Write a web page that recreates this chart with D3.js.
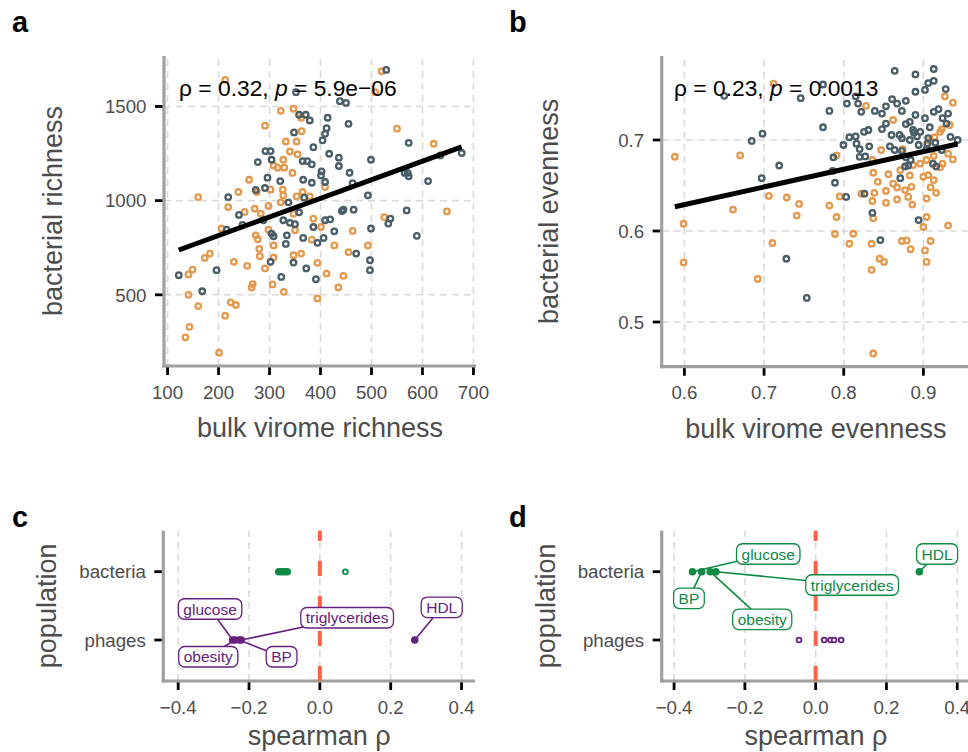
<!DOCTYPE html>
<html>
<head>
<meta charset="utf-8">
<script src="https://cdn.jsdelivr.net/npm/d3@7"></script>
<style>
    body { margin: 0; background: #fff; }
    svg { display: block; font-family: "Liberation Sans", Arial, Helvetica, sans-serif; }
</style>
</head>
<body>
<div id="chart"></div>
<script>
// ---- data ----

// panel a: bulk virome richness vs bacterial richness
const aOrange = [[520,1687],[213,1641],[507,1576],[322,1477],[347,1488],[362,1440],[291,1398],[550,1382],[363,1369],[332,1314],[353,1314],[622,1302],[340,1261],[355,1246],[308,1187],[327,1217],[316,1175],[329,1175],[345,1147],[260,1111],[302,1058],[326,1058],[275,1046],[239,1046],[327,1028],[365,1046],[409,1072],[160,1019],[379,1023],[322,991],[353,1023],[219,966],[271,958],[298,972],[283,931],[251,940],[347,931],[648,943],[386,905],[525,913],[206,852],[298,846],[350,843],[401,860],[463,839],[273,816],[277,795],[383,793],[280,744],[308,762],[427,762],[493,762],[455,726],[347,710],[362,719],[183,719],[173,696],[281,705],[308,698],[230,675],[256,654],[394,670],[291,640],[149,634],[141,608],[412,613],[445,601],[267,557],[265,539],[306,555],[328,516],[435,539],[141,500],[394,481],[224,460],[234,446],[160,440],[213,389],[143,330],[135,274],[201,193]];
const aSlate = [[529,1694],[352,1576],[438,1528],[450,1519],[358,1456],[371,1456],[379,1426],[414,1440],[455,1408],[412,1385],[348,1362],[409,1355],[404,1320],[573,1307],[386,1284],[292,1263],[302,1263],[417,1249],[436,1228],[635,1240],[677,1253],[277,1205],[304,1217],[365,1210],[374,1210],[383,1193],[499,1217],[436,1184],[457,1148],[402,1155],[401,1134],[565,1147],[573,1129],[571,1147],[296,1122],[321,1104],[366,1111],[383,1095],[409,1099],[611,1104],[463,1093],[273,1057],[291,1067],[493,1028],[219,1019],[368,1016],[337,991],[240,924],[358,938],[445,952],[465,952],[442,945],[569,948],[409,896],[419,901],[537,905],[533,878],[327,896],[340,882],[350,875],[247,871],[288,896],[216,846],[304,825],[308,811],[386,860],[427,837],[499,852],[589,813],[334,816],[366,802],[394,776],[406,802],[332,770],[470,719],[302,675],[347,671],[372,640],[497,684],[497,631],[196,631],[122,604],[323,595],[391,583],[168,519]];
const aFit = { intercept: 617.6, slope: 0.9859 };
const aXTicks = [100, 200, 300, 400, 500, 600, 700];
const aYTicks = [500, 1000, 1500];

// panel b: bulk virome evenness vs bacterial evenness
const bOrange = [[0.712,0.762],[0.588,0.6816],[0.599,0.608],[0.599,0.5655],[0.670,0.683],[0.661,0.6235],[0.692,0.5474],[0.706,0.6386],[0.7105,0.5868],[0.7285,0.6368],[0.741,0.617],[0.744,0.6298],[0.782,0.628],[0.791,0.6154],[0.789,0.5967],[0.795,0.638],[0.791,0.683],[0.807,0.586],[0.812,0.597],[0.822,0.641],[0.828,0.7375],[0.835,0.586],[0.835,0.5574],[0.837,0.4654],[0.837,0.614],[0.836,0.633],[0.8385,0.642],[0.8427,0.654],[0.837,0.664],[0.836,0.678],[0.845,0.5695],[0.8506,0.566],[0.847,0.689],[0.853,0.631],[0.853,0.644],[0.856,0.6625],[0.862,0.652],[0.862,0.722],[0.867,0.6346],[0.867,0.6478],[0.873,0.589],[0.879,0.5897],[0.884,0.580],[0.874,0.690],[0.871,0.667],[0.883,0.661],[0.877,0.645],[0.881,0.6375],[0.885,0.6485],[0.886,0.629],[0.900,0.6044],[0.902,0.5787],[0.904,0.566],[0.909,0.589],[0.904,0.6154],[0.904,0.6357],[0.900,0.6596],[0.906,0.6614],[0.909,0.648],[0.913,0.656],[0.916,0.642],[0.896,0.674],[0.904,0.678],[0.913,0.6824],[0.921,0.670],[0.924,0.674],[0.931,0.606],[0.937,0.6787],[0.931,0.685],[0.933,0.7165],[0.9075,0.699],[0.921,0.709],[0.887,0.6724],[0.914,0.703],[0.923,0.712],[0.927,0.748],[0.937,0.741]];
const bSlate = [[0.650,0.7485],[0.774,0.761],[0.746,0.746],[0.864,0.776],[0.890,0.772],[0.913,0.778],[0.913,0.765],[0.906,0.7625],[0.890,0.753],[0.902,0.755],[0.928,0.756],[0.804,0.740],[0.815,0.748],[0.818,0.740],[0.822,0.731],[0.8607,0.745],[0.867,0.740],[0.878,0.743],[0.873,0.732],[0.853,0.737],[0.839,0.732],[0.848,0.729],[0.782,0.732],[0.774,0.714],[0.853,0.718],[0.848,0.712],[0.831,0.711],[0.8255,0.709],[0.815,0.704],[0.807,0.703],[0.7996,0.6945],[0.816,0.696],[0.820,0.690],[0.827,0.682],[0.820,0.6815],[0.832,0.693],[0.860,0.7055],[0.870,0.7055],[0.878,0.7175],[0.883,0.720],[0.890,0.7275],[0.902,0.724],[0.908,0.714],[0.913,0.731],[0.919,0.734],[0.931,0.729],[0.924,0.724],[0.929,0.718],[0.887,0.711],[0.896,0.709],[0.892,0.704],[0.883,0.700],[0.873,0.702],[0.858,0.693],[0.864,0.689],[0.873,0.688],[0.878,0.681],[0.884,0.678],[0.881,0.672],[0.877,0.671],[0.894,0.6945],[0.905,0.696],[0.915,0.697],[0.904,0.690],[0.912,0.674],[0.916,0.671],[0.923,0.689],[0.943,0.700],[0.906,0.702],[0.934,0.7035],[0.888,0.708],[0.871,0.658],[0.826,0.641],[0.836,0.620],[0.894,0.612],[0.846,0.590],[0.789,0.653],[0.786,0.666],[0.803,0.6375],[0.787,0.681],[0.697,0.658],[0.6845,0.699],[0.698,0.707],[0.719,0.672],[0.728,0.5695],[0.7536,0.5265]];
const bFit = { intercept: 0.5124, slope: 0.1943 };
const bXTicks = [0.6, 0.7, 0.8, 0.9];
const bYTicks = [0.5, 0.6, 0.7];

// panels c and d: spearman rho per trait, per population
const traits = ['glucose', 'obesity', 'BP', 'triglycerides', 'HDL'];
const populations = ['phages', 'bacteria'];
const rhoTicks = [-0.4, -0.2, 0, 0.2, 0.4];

const cBacteriaRho = [-0.116, -0.108, -0.100, -0.092, 0.072];
const cBacteriaSig = [true, true, true, true, false];
const cPhagesRho = [-0.246, -0.240, -0.228, -0.222, 0.268];
const cPhagesSig = [true, true, true, true, true];
const cLabelRho = [-0.31, -0.315, -0.108, 0.077, 0.344];
const cLabelPos = [1.454, 0.755, 0.755, 1.326, 1.479];

const dBacteriaRho = [-0.348, -0.298, -0.322, -0.282, 0.293];
const dBacteriaSig = [true, true, true, true, true];
const dPhagesRho = [-0.047, 0.024, 0.042, 0.052, 0.072];
const dPhagesSig = [false, false, false, false, false];
const dLabelRho = [-0.134, -0.151, -0.358, 0.103, 0.343];
const dLabelPos = [2.259, 1.303, 1.61, 1.805, 2.259];

// ---- styles ----
const ORANGE = '#E4994C';
const SLATE = '#4A5E67';
const GREEN = '#0E8A45';
const PURPLE = '#66207E';
const TEXT_GREY = '#4D4D4D';
const AXIS_GREY = '#A0A0A0';
const GRID_GREY = '#DADADA';

const svg = d3.select('#chart')
    .append('svg')
    .attr('width', 968)
    .attr('height', 752);

svg.append('rect').attr('width', 968).attr('height', 752).attr('fill', '#fff');

// draws grid, ticks, axis lines, tick labels, titles for one panel
function drawFrame(g, box, x, y, opts) {
    const { L, R, T, B } = box;

    // grid
    g.selectAll('.vgrid')
        .data(opts.xTicks)
        .enter().append('line')
        .attr('x1', d => x(d)).attr('x2', d => x(d))
        .attr('y1', B).attr('y2', T)
        .attr('stroke', GRID_GREY)
        .attr('stroke-width', 1.6)
        .attr('stroke-dasharray', '7,5');

    if (opts.hGrid) {
        g.selectAll('.hgrid')
            .data(opts.yTicks)
            .enter().append('line')
            .attr('x1', L).attr('x2', R)
            .attr('y1', d => y(d)).attr('y2', d => y(d))
            .attr('stroke', GRID_GREY)
            .attr('stroke-width', 1.6)
            .attr('stroke-dasharray', '7,5');
    }

    // ticks
    g.selectAll('.xtick')
        .data(opts.xTicks)
        .enter().append('line')
        .attr('x1', d => x(d)).attr('x2', d => x(d))
        .attr('y1', B).attr('y2', B + 9)
        .attr('stroke', '#000')
        .attr('stroke-width', 2.8);

    g.selectAll('.ytick')
        .data(opts.yTicks)
        .enter().append('line')
        .attr('x1', L - 9).attr('x2', L)
        .attr('y1', d => y(d)).attr('y2', d => y(d))
        .attr('stroke', '#000')
        .attr('stroke-width', 2.8);

    // axis lines
    g.append('line')
        .attr('x1', L).attr('x2', L)
        .attr('y1', T).attr('y2', B + 1.6)
        .attr('stroke', AXIS_GREY)
        .attr('stroke-width', 3.2);
    g.append('line')
        .attr('x1', L - 1.6).attr('x2', R)
        .attr('y1', B).attr('y2', B)
        .attr('stroke', AXIS_GREY)
        .attr('stroke-width', 3.2);

    // tick labels
    g.selectAll('.xlab')
        .data(opts.xTicks)
        .enter().append('text')
        .attr('x', d => x(d))
        .attr('y', B + 32.5)
        .attr('text-anchor', 'middle')
        .attr('font-size', '18.7px')
        .attr('fill', TEXT_GREY)
        .text(opts.xFormat);

    g.selectAll('.ylab')
        .data(opts.yTicks)
        .enter().append('text')
        .attr('x', L - 17.5)
        .attr('y', d => y(d))
        .attr('dy', '0.36em')
        .attr('text-anchor', 'end')
        .attr('font-size', '18.7px')
        .attr('fill', TEXT_GREY)
        .text(opts.yFormat);

    // axis titles
    g.append('text')
        .attr('x', (L + R) / 2)
        .attr('y', B + opts.xTitleOffset)
        .attr('text-anchor', 'middle')
        .attr('font-size', '27px')
        .attr('fill', TEXT_GREY)
        .text(opts.xTitle);

    g.append('text')
        .attr('transform', `translate(${L - opts.yTitleOffset},${(T + B) / 2}) rotate(-90)`)
        .attr('text-anchor', 'middle')
        .attr('font-size', '27px')
        .attr('fill', TEXT_GREY)
        .text(opts.yTitle);

    // panel letter
    svg.append('text')
        .attr('x', opts.letterX)
        .attr('y', opts.letterY)
        .attr('font-size', '29px')
        .attr('font-weight', 'bold')
        .attr('fill', '#000')
        .text(opts.letter);
}

function scatterPanel(cfg) {
    const g = svg.append('g');
    const box = cfg.box;
    const x = d3.scaleLinear().domain(cfg.xDomain).range([box.L, box.R]);
    const y = d3.scaleLinear().domain(cfg.yDomain).range([box.B, box.T]);

    drawFrame(g, box, x, y, {
        xTicks: cfg.xTicks, yTicks: cfg.yTicks, hGrid: true,
        xFormat: cfg.xFormat, yFormat: cfg.yFormat,
        xTitle: cfg.xTitle, yTitle: cfg.yTitle,
        xTitleOffset: 71, yTitleOffset: cfg.yTitleOffset,
        letter: cfg.letter, letterX: cfg.letterX, letterY: 32
    });

    // points, open circles
    const groups = [[cfg.orange, ORANGE], [cfg.slate, SLATE]];
    groups.forEach(([pts, col]) => {
        g.append('g').selectAll('circle')
            .data(pts)
            .enter().append('circle')
            .attr('cx', d => x(d[0]))
            .attr('cy', d => y(d[1]))
            .attr('r', 2.75)
            .attr('fill', 'none')
            .attr('stroke', col)
            .attr('stroke-width', 2.3);
    });

    // fitted line over the full x range of the data
    const all = cfg.orange.concat(cfg.slate);
    const ext = d3.extent(all, d => d[0]);
    const line = d3.line().x(d => x(d)).y(d => y(cfg.fit.intercept + cfg.fit.slope * d));
    g.append('path')
        .attr('d', line(ext))
        .attr('stroke', '#000')
        .attr('stroke-width', 5)
        .attr('fill', 'none');

    // correlation annotation
    const t = g.append('text')
        .attr('x', cfg.annX)
        .attr('y', 95.5)
        .attr('font-size', '22.8px')
        .attr('fill', '#000');
    t.append('tspan').text(`ρ = ${cfg.rho}, `);
    t.append('tspan').attr('font-style', 'italic').text('p');
    t.append('tspan').text(` = ${cfg.p}`);
}

function dotPanel(cfg) {
    const g = svg.append('g');
    const box = cfg.box;
    const x = d3.scaleLinear().domain(cfg.xDomain).range([box.L, box.R]);
    const y = d3.scaleLinear().domain([0.4, 2.6]).range([box.B, box.T]);

    drawFrame(g, box, x, y, {
        xTicks: rhoTicks, yTicks: [1, 2], hGrid: false,
        xFormat: d3.format('.1f'), yFormat: d => populations[d - 1],
        xTitle: 'spearman ρ', yTitle: 'population',
        xTitleOffset: 64, yTitleOffset: cfg.yTitleOffset,
        letter: cfg.letter, letterX: cfg.letterX, letterY: 527
    });

    // zero line
    g.append('line')
        .attr('x1', x(0)).attr('x2', x(0))
        .attr('y1', box.B).attr('y2', box.T)
        .attr('stroke', '#FF6347')
        .attr('stroke-width', 4)
        .attr('stroke-dasharray', '15,20');

    const rows = [
        { rho: cfg.bacteriaRho, sig: cfg.bacteriaSig, pos: 2, col: GREEN },
        { rho: cfg.phagesRho, sig: cfg.phagesSig, pos: 1, col: PURPLE }
    ];
    const labelled = rows[cfg.labelRow];

    // repel segments
    g.append('g').selectAll('line')
        .data(traits)
        .enter().append('line')
        .attr('x1', (d, i) => x(labelled.rho[i]))
        .attr('y1', y(labelled.pos))
        .attr('x2', (d, i) => x(cfg.labelRho[i]))
        .attr('y2', (d, i) => y(cfg.labelPos[i]))
        .attr('stroke', labelled.col)
        .attr('stroke-width', 1.6);

    // points: filled when significant, open otherwise
    rows.forEach(row => {
        g.append('g').selectAll('circle')
            .data(row.rho)
            .enter().append('circle')
            .attr('cx', d => x(d))
            .attr('cy', y(row.pos))
            .attr('r', (d, i) => row.sig[i] ? 3.8 : 2.4)
            .attr('fill', (d, i) => row.sig[i] ? row.col : '#fff')
            .attr('stroke', row.col)
            .attr('stroke-width', (d, i) => row.sig[i] ? 0 : 1.8);
    });

    // labels in rounded boxes
    traits.forEach((name, i) => {
        const lg = g.append('g')
            .attr('transform', `translate(${x(cfg.labelRho[i])},${y(cfg.labelPos[i])})`);
        const rect = lg.append('rect');
        const txt = lg.append('text')
            .attr('text-anchor', 'middle')
            .attr('dy', '0.36em')
            .attr('font-size', '15.5px')
            .attr('fill', labelled.col)
            .text(name);
        const w = txt.node().getComputedTextLength() + 10;
        const h = 20.5;
        rect.attr('x', -w / 2).attr('y', -h / 2)
            .attr('width', w).attr('height', h)
            .attr('rx', 6).attr('ry', 6)
            .attr('fill', '#fff')
            .attr('stroke', labelled.col)
            .attr('stroke-width', 1.3);
    });
}

scatterPanel({
    box: { L: 164, R: 476, T: 56, B: 366 },
    xDomain: [93, 705], yDomain: [122, 1768],
    xTicks: aXTicks, yTicks: aYTicks,
    xFormat: d3.format('d'), yFormat: d3.format('d'),
    xTitle: 'bulk virome richness', yTitle: 'bacterial richness',
    yTitleOffset: 102.5,
    orange: aOrange, slate: aSlate, fit: aFit,
    rho: '0.32', p: '5.9e−06', annX: 179,
    letter: 'a', letterX: 12
});

scatterPanel({
    box: { L: 661.7, R: 970, T: 56, B: 366.7 },
    xDomain: [0.5715, 0.9585], yDomain: [0.4509, 0.7923],
    xTicks: bXTicks, yTicks: bYTicks,
    xFormat: d3.format('.1f'), yFormat: d3.format('.1f'),
    xTitle: 'bulk virome evenness', yTitle: 'bacterial evenness',
    yTitleOffset: 103.5,
    orange: bOrange, slate: bSlate, fit: bFit,
    rho: '0.23', p: '0.0013', annX: 674,
    letter: 'b', letterX: 509
});

dotPanel({
    box: { L: 163.3, R: 475, T: 530.7, B: 681 },
    xDomain: [-0.442, 0.438],
    bacteriaRho: cBacteriaRho, bacteriaSig: cBacteriaSig,
    phagesRho: cPhagesRho, phagesSig: cPhagesSig,
    labelRow: 1, labelRho: cLabelRho, labelPos: cLabelPos,
    yTitleOffset: 107,
    letter: 'c', letterX: 12
});

dotPanel({
    box: { L: 661.7, R: 970, T: 530.7, B: 681 },
    xDomain: [-0.435, 0.436],
    bacteriaRho: dBacteriaRho, bacteriaSig: dBacteriaSig,
    phagesRho: dPhagesRho, phagesSig: dPhagesSig,
    labelRow: 0, labelRho: dLabelRho, labelPos: dLabelPos,
    yTitleOffset: 107,
    letter: 'd', letterX: 509
});
</script>
</body>
</html>
